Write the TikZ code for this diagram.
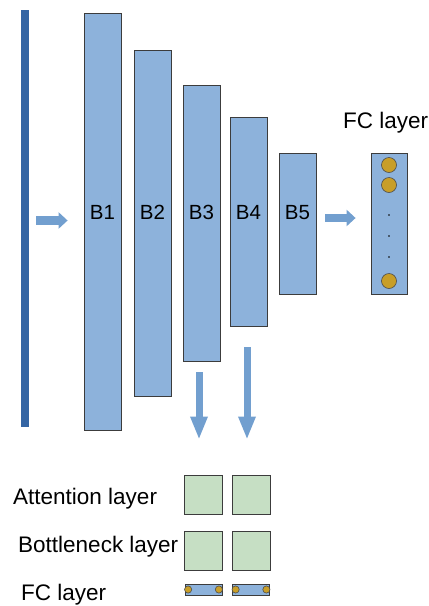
\documentclass[tikz,border=0pt]{standalone}
\usepackage{fontspec}
\setmainfont{Liberation Sans}
\usepackage{tikz}
\usetikzlibrary{arrows.meta}
\definecolor{barblue}{RGB}{52,101,164}
\definecolor{blockblue}{RGB}{141,178,219}
\definecolor{arrowblue}{RGB}{114,159,207}
\definecolor{attgreen}{RGB}{198,223,196}
\definecolor{neurongold}{RGB}{200,158,40}
\definecolor{edgegray}{RGB}{60,60,60}

\begin{document}
\begin{tikzpicture}[x=1pt,y=-1pt,
  blk/.style={draw=edgegray, fill=blockblue, line width=0.8pt, inner sep=0pt, minimum width=37pt},
  sq/.style={draw=edgegray, fill=attgreen, line width=0.8pt, inner sep=0pt, minimum width=38pt, minimum height=39pt},
  fcbar/.style={draw=edgegray, fill=blockblue, line width=0.8pt, inner sep=0pt, minimum width=37pt, minimum height=11pt},
  neuron/.style={draw=black!70, fill=neurongold, line width=0.6pt},
  blabel/.style={inner sep=0pt, anchor=base, font=\fontsize{20.5}{24}\selectfont},
  txt/.style={inner sep=0pt, anchor=base west, font=\fontsize{22.5}{26}\selectfont},
  flatarrow/.style={draw=arrowblue, line width=8.5pt, -{Triangle[width=16pt,length=9pt]}},
  downarrow/.style={draw=arrowblue, line width=7pt, -{Triangle[width=16pt,length=23pt]}}]
  \useasboundingbox (0,0) rectangle (429,606);
  % input and backbone blocks
  \node[fill=barblue, inner sep=0pt, minimum width=8pt, minimum height=417pt] (inbar) at (25,218.5) {};
  \node[blk, minimum height=417pt] (B1) at (102.5,221.5) {};
  \node[blk, minimum height=346pt] (B2) at (152.5,223) {};
  \node[blk, minimum height=276pt] (B3) at (201.5,223) {};
  \node[blk, minimum height=209pt] (B4) at (248.5,221.5) {};
  \node[blk, minimum height=141pt] (B5) at (297.5,223.5) {};
  \node[blk, minimum width=36pt, minimum height=141pt] (FC) at (389,223.5) {};
  \coordinate (base) at (0,219);
  \foreach \b in {B1,B2,B3,B4,B5}
    \node[blabel] (t\b) at (\b |- base) {\b};
  \node[txt] (fctitle) at (343,128) {FC layer};
  % neurons
  \draw[neuron] (389,165) circle (7.5);
  \draw[neuron] (389,185) circle (7.5);
  \draw[neuron] (389,281) circle (7.5);
  \foreach \y in {215,236,257}
    \fill (389,\y) circle (0.9);
  % arrows
  \coordinate (ain) at (0,220.5);
  \coordinate (aout) at (0,218);
  \draw[flatarrow] ([xshift=7pt]inbar.east |- ain) -- ([xshift=-16pt]B1.west |- ain);
  \draw[flatarrow] ([xshift=9pt]B5.east |- aout) -- ([xshift=-15pt]FC.west |- aout);
  % side branches
  \node[sq] (att1) at (203,494.5) {};
  \node[sq] (att2) at (251,494.5) {};
  \node[sq] (bn1) at (203,550.5) {};
  \node[sq] (bn2) at (251,550.5) {};
  \node[fcbar] (fc1) at (203.5,589.5) {};
  \node[fcbar] (fc2) at (251,589.5) {};
  \foreach \f in {fc1,fc2} {
    \draw[neuron] ([xshift=3.5pt]\f.west) circle (3.6);
    \draw[neuron] ([xshift=-3.5pt]\f.east) circle (3.6);
  }
  \draw[downarrow] ([shift={(-2.5,11)}]B3.south) -- ([shift={(-4,-35)}]att1.north);
  \draw[downarrow] ([shift={(-1.5,21)}]B4.south) -- ([shift={(-4,-35)}]att2.north);
  \node[txt] (attlbl) at (13,504) {Attention layer};
  \node[txt] (bnlbl) at (18,552) {Bottleneck layer};
  \node[txt] (fclbl) at (21,600) {FC layer};
\end{tikzpicture}
\end{document}
